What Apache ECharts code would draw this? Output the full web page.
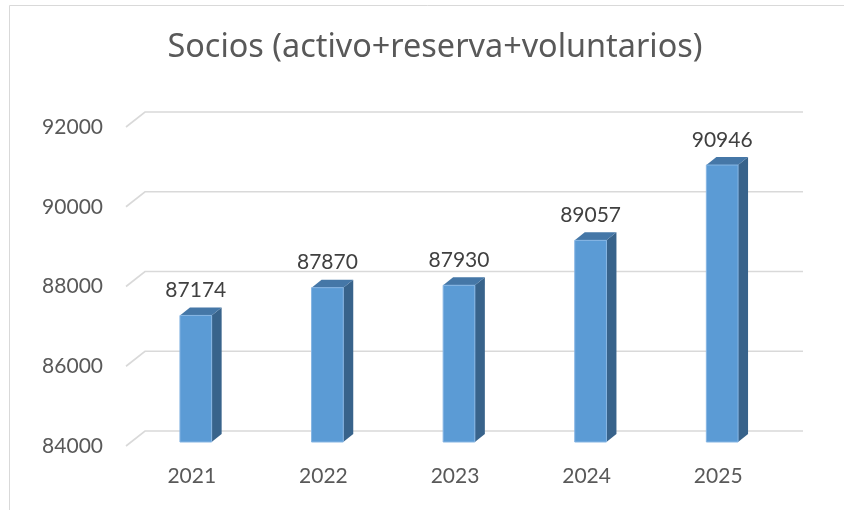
<!DOCTYPE html>
<html>
<head>
<meta charset="utf-8">
<script src="https://cdn.jsdelivr.net/npm/echarts@6/dist/echarts.min.js"></script>
<style>
  html, body { margin: 0; padding: 0; background: #fff; }
  #chart { width: 844px; height: 510px; }
</style>
</head>
<body>
<div id="chart"></div>
<script>
// datos
const years = ['2021', '2022', '2023', '2024', '2025'];
const socios = [87174, 87870, 87930, 89057, 90946];
const yTicks = [84000, 86000, 88000, 90000, 92000];

const FONT = 'Lato';
const DEPTH_X = 19, DEPTH_Y = -15; // fondo del "3D"

const chart = echarts.init(document.getElementById('chart'));

chart.setOption({
  animation: false,
  backgroundColor: '#fff',
  title: {
    text: 'Socios (activo+reserva+voluntarios)',
    left: 430,
    top: 27,
    textAlign: 'center',
    textStyle: { fontFamily: 'Noto Sans', fontSize: 32.4, fontWeight: 'normal', color: '#595959' }
  },
  graphic: [{
    type: 'rect',
    shape: { x: 9.5, y: 5.5, width: 900, height: 600 },
    style: { fill: null, stroke: '#d9d9d9', lineWidth: 1 },
    silent: true
  }],
  grid: { left: 126, right: 60, top: 127, bottom: 64 },
  xAxis: {
    type: 'category',
    data: years,
    axisLine: { show: false },
    axisTick: { show: false },
    axisLabel: { margin: 20, fontFamily: FONT, fontSize: 21, color: '#595959' }
  },
  yAxis: {
    type: 'value',
    min: 84000,
    max: 92000,
    interval: 2000,
    splitLine: { show: false },
    axisLine: { show: false },
    axisTick: { show: false },
    axisLabel: { margin: 23, fontFamily: FONT, fontSize: 21, color: '#595959', formatter: v => String(v) }
  },
  series: [
    {
      // lineas de division con perspectiva
      type: 'custom',
      silent: true,
      clip: false,
      data: yTicks.map(v => [0, v]),
      renderItem: function (params, api) {
        const cs = params.coordSys;
        const y = api.coord([0, api.value(1)])[1];
        return {
          type: 'polyline',
          shape: { points: [[cs.x, y], [cs.x + DEPTH_X, y + DEPTH_Y], [cs.x + cs.width + DEPTH_X, y + DEPTH_Y]] },
          style: { stroke: '#d9d9d9', lineWidth: 1.6, fill: null }
        };
      }
    },
    {
      // barras 3D
      type: 'custom',
      clip: false,
      data: socios.map((v, i) => [i, v]),
      renderItem: function (params, api) {
        const top = api.coord([api.value(0), api.value(1)]);
        const base = api.coord([api.value(0), 84000]);
        const w = 31.7, dx = 10, dy = -8;
        const cx = top[0] + 4;
        const yt = top[1] - 4, yb = base[1] - 4;
        const x0 = cx - w / 2, x1 = cx + w / 2;
        return {
          type: 'group',
          children: [
            {
              type: 'polygon',
              shape: { points: [[x1, yb], [x1 + dx, yb + dy], [x1 + dx, yt + dy], [x1, yt]] },
              style: { fill: '#38638b' }
            },
            {
              type: 'polygon',
              shape: { points: [[x0, yt], [x1, yt], [x1 + dx, yt + dy], [x0 + dx, yt + dy]] },
              style: { fill: '#4577a7' }
            },
            {
              type: 'rect',
              shape: { x: x0, y: yt, width: w, height: yb - yt },
              style: { fill: '#5b9bd5', stroke: '#86b5e3', lineWidth: 1 }
            },
            {
              type: 'text',
              x: cx,
              y: yt - 25,
              style: {
                text: String(api.value(1)),
                align: 'center',
                verticalAlign: 'middle',
                fontFamily: FONT,
                fontSize: 21,
                fill: '#404040'
              }
            }
          ]
        };
      }
    }
  ]
});
</script>
</body>
</html>
